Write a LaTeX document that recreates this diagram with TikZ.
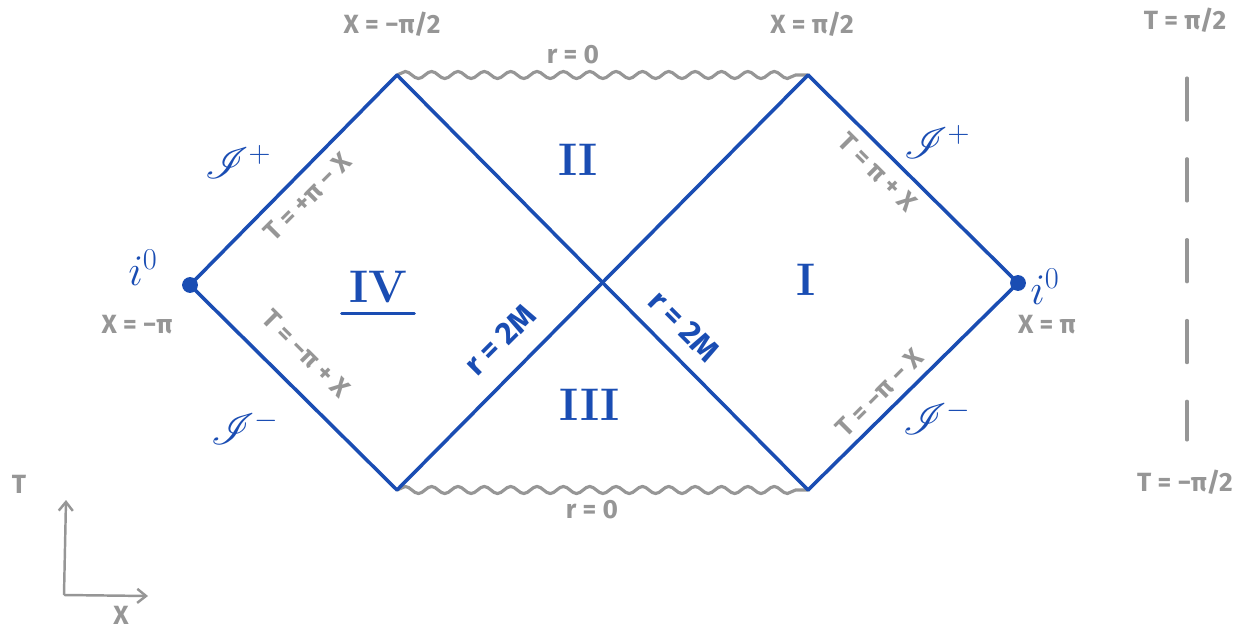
\documentclass[tikz,border=0pt]{standalone}
\usepackage{fontspec}
\usepackage{mathrsfs}
\setsansfont{Fira Sans}
\usetikzlibrary{decorations.pathmorphing,arrows.meta}
\definecolor{pblue}{RGB}{26,77,179}
\definecolor{pgray}{RGB}{150,150,150}
\tikzset{
  horizon/.style={draw=pblue,line width=2pt,line cap=round},
  wavy/.style={draw=pgray,line width=1.8pt,line cap=round,decorate,decoration={snake,amplitude=2pt,segment length=15pt}},
  glabel/.style={text=pgray,font=\sffamily\bfseries\fontsize{15}{17}\selectfont,inner sep=1pt},
  blabel/.style={text=pblue,font=\sffamily\bfseries\fontsize{18}{20}\selectfont,inner sep=1pt},
  scri/.style={text=pblue,font=\bfseries\fontsize{24}{26}\selectfont,inner sep=1pt},
  region/.style={text=pblue,font=\rmfamily\bfseries\fontsize{26}{28}\selectfont,inner sep=1pt},
  dotpt/.style={circle,fill=pblue,inner sep=0pt,minimum size=9pt},
  axis/.style={draw=pgray,line width=1.4pt,-{Straight Barb[length=5pt,width=8pt]}}
}
\begin{document}
\begin{tikzpicture}[x=0.02cm,y=-0.02cm]
\useasboundingbox (0,0) rectangle (1236,631);
% corner points
\coordinate (L) at (190,285);
\coordinate (TL) at (397,75);
\coordinate (TR) at (808,75);
\coordinate (R) at (1018,283);
\coordinate (BL) at (397,490);
\coordinate (BR) at (808,490);
% singularities
\draw[wavy] (TL) -- (TR);
\draw[wavy] (BL) -- (BR);
% horizons and null infinities
\draw[horizon] (L) -- (TL);
\draw[horizon] (L) -- (BL);
\draw[horizon] (TL) -- (BR);
\draw[horizon] (BL) -- (TR);
\draw[horizon] (TR) -- (R);
\draw[horizon] (BR) -- (R);
\node[dotpt] (dL) at (L) {};
\node[dotpt] (dR) at (R) {};
% gray labels
\node[glabel] (xtl) at (392,24) {X = −π/2};
\node[glabel] (xtr) at (812,24) {X = π/2};
\node[glabel] (r0t) at (573,55) {r = 0};
\node[glabel] (r0b) at (592,510) {r = 0};
\node[glabel] (xl) at (137,325) {X = −π};
\node[glabel] (xr) at (1047,325) {X = π};
\node[glabel,rotate=45] (e1) at (308,197) {T = +π − X};
\node[glabel,rotate=-45] (e2) at (306,354) {T = −π + X};
\node[glabel,rotate=-45] (e3) at (878,172) {T = π + X};
\node[glabel,rotate=45] (e4) at (880,393) {T = −π − X};
\node[glabel] (tt) at (1185,20) {T = π/2};
\node[glabel] (tb) at (1185,482) {T = −π/2};
% dashed line
\coordinate (d1) at (1187,78);
\coordinate (d2) at (1187,440);
\draw[draw=pgray,line width=1.8pt,line cap=round,dash pattern=on 24pt off 22pt] (d1) -- (d2);
% blue labels
\node[blabel,rotate=45] (h1) at (500,340) {r = 2M};
\node[blabel,rotate=-45] (h2) at (684,326) {r = 2M};
\node[scri] (sp1) at (238,162) {$\mathscr{I}^+$};
\node[scri] (sm1) at (245,428) {$\mathscr{I}^-$};
\node[scri] (sp2) at (937,142) {$\mathscr{I}^+$};
\node[scri] (sm2) at (937,418) {$\mathscr{I}^-$};
\node[blabel,font=\fontsize{24}{26}\selectfont] (i1) at (143,268) {$i^0$};
\node[blabel,font=\fontsize{24}{26}\selectfont] (i2) at (1045,287) {$i^0$};
\node[region] (rII) at (578,160) {II};
\node[region] (rI) at (806,280) {I};
\node[region] (rIII) at (590,405) {III};
\node[region] (rIV) at (378,287) {IV};
\draw[draw=pblue,line width=1.8pt,line cap=round] ([xshift=-3pt,yshift=-5pt]rIV.south west) -- ([xshift=3pt,yshift=-5pt]rIV.south east);
% axes
\coordinate (o) at (64,595);
\coordinate (ty) at (66,500);
\coordinate (tx) at (148,596);
\draw[axis] (o) -- (ty);
\draw[axis] (o) -- (tx);
\node[glabel] (tl) at (19,484) {T};
\node[glabel] (xlab) at (121,615) {X};
\end{tikzpicture}
\end{document}
